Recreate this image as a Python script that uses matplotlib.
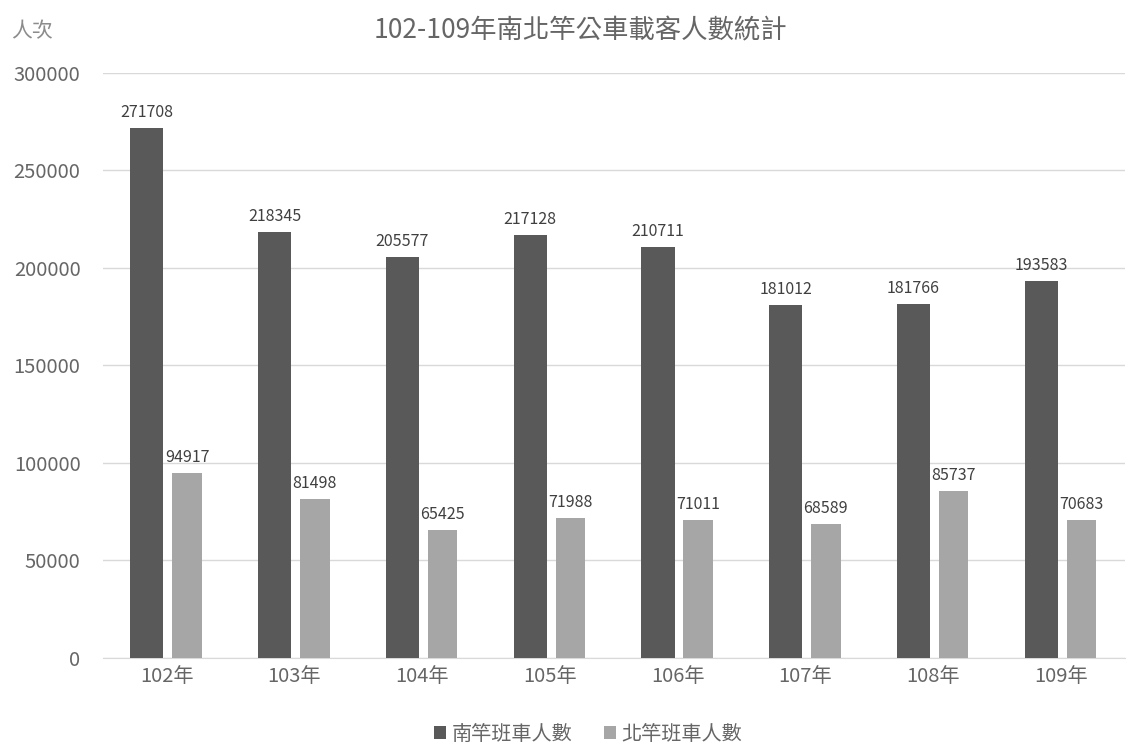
import numpy as np
import matplotlib.pyplot as plt

plt.rcParams['font.family'] = ['Noto Sans CJK TC', 'DejaVu Sans']

years = ['102年', '103年', '104年', '105年', '106年', '107年', '108年', '109年']
south = [271708, 218345, 205577, 217128, 210711, 181012, 181766, 193583]
north = [94917, 81498, 65425, 71988, 71011, 68589, 85737, 70683]

dark = '#595959'
light = '#a6a6a6'
text_grey = '#666666'

fig = plt.figure(figsize=(11.42, 7.44), dpi=100)
ax = fig.add_axes([0.090, 0.1156, 0.895, 0.7863])

x = np.arange(len(years))
b1 = ax.bar(x - 0.155, south, width=0.26, color=dark, zorder=3)
b2 = ax.bar(x + 0.16, north, width=0.23, color=light, zorder=3)

for xi, v in zip(x, south):
    ax.annotate(str(v), (xi - 0.155, v), xytext=(0, 5), textcoords='offset points',
                ha='center', va='bottom', fontsize=11.5, color='#404040')
for xi, v in zip(x, north):
    ax.annotate(str(v), (xi + 0.16, v), xytext=(0, 5), textcoords='offset points',
                ha='center', va='bottom', fontsize=11.5, color='#404040')

ax.set_xlim(-0.5, len(years) - 0.5)
ax.set_ylim(0, 300000)
ax.set_yticks(np.arange(0, 300001, 50000))
ax.set_xticks(x)
ax.set_xticklabels(years)
ax.yaxis.grid(True, color='#d9d9d9', linewidth=1, zorder=0)
ax.tick_params(axis='both', length=0, labelsize=14.5, labelcolor=text_grey)
ax.tick_params(axis='y', pad=16)
ax.tick_params(axis='x', pad=6)
for s in ['top', 'right', 'left']:
    ax.spines[s].set_visible(False)
ax.spines['bottom'].set_color('#d9d9d9')

fig.text(0.508, 0.958, '102-109年南北竿公車載客人數統計', ha='center', va='center',
         fontsize=19, color=text_grey)
fig.text(0.010, 0.958, '人次', ha='left', va='center', fontsize=15, color='#8c8c8c')

leg = fig.legend([b1, b2], ['南竿班車人數', '北竿班車人數'], loc='center',
                 bbox_to_anchor=(0.515, 0.013), ncol=2, frameon=False,
                 fontsize=14.5, handlelength=0.6, handleheight=0.6,
                 handletextpad=0.25, columnspacing=1.6, borderpad=0)
for t in leg.get_texts():
    t.set_color(text_grey)

fig.savefig('out.png', dpi=100)
